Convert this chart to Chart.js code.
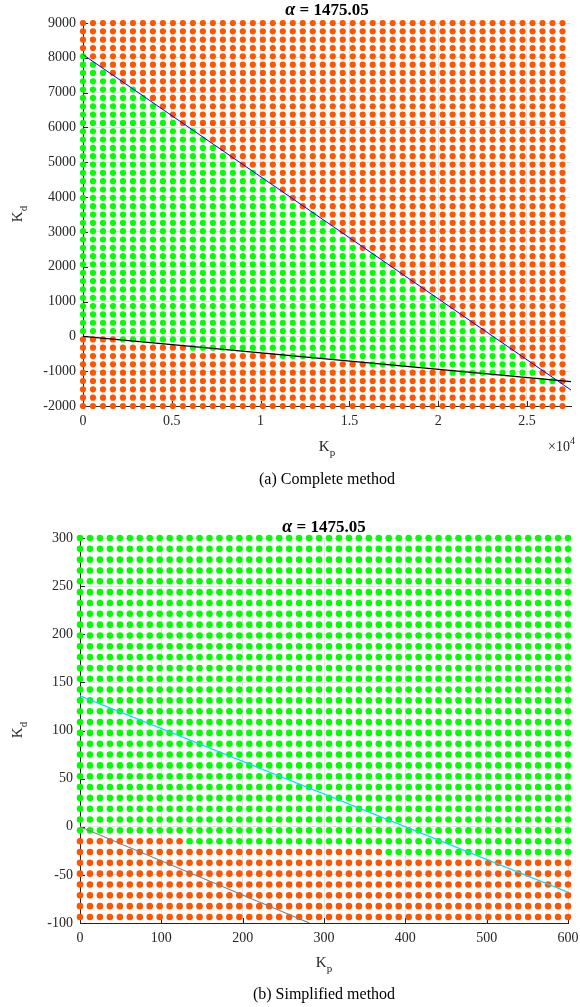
<!DOCTYPE html>
<html>
<head>
<meta charset="utf-8">
<script src="https://cdn.jsdelivr.net/npm/chart.js@4.4.1/dist/chart.umd.min.js"></script>
<style>
  html, body { margin: 0; padding: 0; background: #fff; }
  #wrap { position: relative; width: 580px; height: 1007px; }
  canvas { position: absolute; left: 0; }
  #c1 { top: 0; }
  #c2 { top: 500px; }
</style>
</head>
<body>
<div id="wrap">
  <canvas id="c1" width="580" height="500" style="width:580px;height:500px"></canvas>
  <canvas id="c2" width="580" height="507" style="width:580px;height:507px"></canvas>
</div>
<script>
// ---- (a) complete method : sample grid ----
const topKp = [0, 562.5, 1125, 1687.5, 2250, 2812.5, 3375, 3937.5, 4500, 5062.5, 5625, 6187.5, 6750,
  7312.5, 7875, 8437.5, 9000, 9562.5, 10125, 10687.5, 11250, 11812.5, 12375, 12937.5, 13500, 14062.5,
  14625, 15187.5, 15750, 16312.5, 16875, 17437.5, 18000, 18562.5, 19125, 19687.5, 20250, 20812.5,
  21375, 21937.5, 22500, 23062.5, 23625, 24187.5, 24750, 25312.5, 25875, 26437.5, 27000]
const topKd = [-2000, -1760.9, -1521.7, -1282.6, -1043.5, -804.3, -565.2, -326.1, -87, 152.2, 391.3,
  630.4, 869.6, 1108.7, 1347.8, 1587, 1826.1, 2065.2, 2304.3, 2543.5, 2782.6, 3021.7, 3260.9, 3500,
  3739.1, 3978.3, 4217.4, 4456.5, 4695.7, 4934.8, 5173.9, 5413, 5652.2, 5891.3, 6130.4, 6369.6,
  6608.7, 6847.8, 7087, 7326.1, 7565.2, 7804.3, 8043.5, 8282.6, 8521.7, 8760.9, 9000]
// stable (green) column range in each Kd row, null = no stable point
const topGreenFrom = [null, null, null, 46, 37, 29, 20, 11, 4, 0, 0, 0, 0, 0, 0, 0, 0, 0, 0, 0, 0, 0, 0, 0,
  0, 0, 0, 0, 0, 0, 0, 0, 0, 0, 0, 0, 0, 0, 0, 0, 0, 0, 0, null, null, null, null]
const topGreenTo = [null, null, null, 47, 45, 44, 43, 42, 41, 39, 38, 37, 36, 35, 33, 32, 31, 30, 29, 27,
  26, 25, 24, 23, 21, 20, 19, 18, 17, 15, 14, 13, 12, 11, 9, 8, 7, 6, 5, 3, 2, 1, 0, null, null, null, null]
// boundary curves
const topLineKp = [0, 27478]
const topBlueKd = [8092, -1541]
const topBlackKd = [0, -1300]
// ticks
const topKpTicks = [0, 5000, 10000, 15000, 20000, 25000]
const topKdTicks = [-2000, -1000, 0, 1000, 2000, 3000, 4000, 5000, 6000, 7000, 8000, 9000]

// ---- (b) simplified method ----
const botKp = [0, 12.24, 24.49, 36.73, 48.98, 61.22, 73.47, 85.71, 97.96, 110.2, 122.45, 134.69, 146.94,
  159.18, 171.43, 183.67, 195.92, 208.16, 220.41, 232.65, 244.9, 257.14, 269.39, 281.63, 293.88, 306.12,
  318.37, 330.61, 342.86, 355.1, 367.35, 379.59, 391.84, 404.08, 416.33, 428.57, 440.82, 453.06, 465.31,
  477.55, 489.8, 502.04, 514.29, 526.53, 538.78, 551.02, 563.27, 575.51, 587.76, 600]
const botKd = [300, 288.75, 277.5, 266.25, 255, 243.75, 232.5, 221.25, 210, 198.75, 187.5, 176.25, 165,
  153.75, 142.5, 131.25, 120, 108.75, 97.5, 86.25, 75, 63.75, 52.5, 41.25, 30, 18.75, 7.5, -3.75, -15,
  -26.25, -37.5, -48.75, -60, -71.25, -82.5, -93.75]
// last unstable (orange) column in each row, -1 = whole row stable
const botOrangeTo = [-1, -1, -1, -1, -1, -1, -1, -1, -1, -1, -1, -1, -1, -1, -1, -1, -1, -1, -1, -1, -1,
  -1, -1, -1, -1, -1, -1, -1, 10, 30, 49, 49, 49, 49, 49, 49]
const botCyanKp = [0, 600]
const botCyanKd = [136, -68]
const botGrayKp = [0, 282]
const botGrayKd = [0, -100]
const botKpTicks = [0, 100, 200, 300, 400, 500, 600]
const botKdTicks = [-100, -50, 0, 50, 100, 150, 200, 250, 300]

const GREEN = "#00ff00"
const ORANGE = "#ff5500"
const SERIF = '"Liberation Serif", "Times New Roman", serif'
const TXT = "#262626"

function pts(xs, ys) {
  return xs.map((x, i) => ({ x: x, y: ys[i] }))
}

// split grid into stable / unstable points
function splitGrid(kp, kd, isGreen) {
  const g = [], o = []
  kd.forEach((y, r) => {
    kp.forEach((x, c) => {
      if (isGreen(r, c)) g.push({ x: x, y: y })
      else o.push({ x: x, y: y })
    })
  })
  return [g, o]
}

const topSets = splitGrid(topKp, topKd, (r, c) =>
  topGreenFrom[r] !== null && c >= topGreenFrom[r] && c <= topGreenTo[r])
const botSets = splitGrid(botKp, botKd, (r, c) => c > botOrangeTo[r])

// text with subscript
function drawScript(ctx, x, y, main, small, size) {
  const f1 = size + "px " + SERIF
  const f2 = Math.round(size * 0.72) + "px " + SERIF
  ctx.font = f1
  const w1 = ctx.measureText(main).width
  ctx.font = f2
  const w2 = ctx.measureText(small).width
  const x0 = x - (w1 + w2) / 2
  ctx.textAlign = "left"
  ctx.textBaseline = "alphabetic"
  ctx.font = f1
  ctx.fillText(main, x0, y)
  ctx.font = f2
  ctx.fillText(small, x0 + w1, y + size * 0.3)
}

function drawTitle(ctx, cx, y) {
  ctx.textBaseline = "alphabetic"
  ctx.textAlign = "left"
  ctx.fillStyle = "#000"
  const a = "α"
  const rest = " = 1475.05"
  ctx.font = "italic bold 18px " + SERIF
  const wa = ctx.measureText(a).width
  ctx.font = "bold 17px " + SERIF
  const wr = ctx.measureText(rest).width
  const x0 = cx - (wa + wr) / 2
  ctx.font = "italic bold 18px " + SERIF
  ctx.fillText(a, x0, y)
  ctx.font = "bold 17px " + SERIF
  ctx.fillText(rest, x0 + wa, y)
}

// inward MATLAB style tick marks
const innerTicks = {
  id: "innerTicks",
  beforeDatasetsDraw(chart) {
    const ctx = chart.ctx
    const a = chart.chartArea
    ctx.save()
    ctx.strokeStyle = TXT
    ctx.lineWidth = 1
    chart.scales.x.ticks.forEach((t) => {
      const px = Math.round(chart.scales.x.getPixelForValue(t.value)) + 0.5
      ctx.beginPath()
      ctx.moveTo(px, a.bottom)
      ctx.lineTo(px, a.bottom - 5)
      ctx.stroke()
    })
    chart.scales.y.ticks.forEach((t) => {
      const py = Math.round(chart.scales.y.getPixelForValue(t.value)) + 0.5
      ctx.beginPath()
      ctx.moveTo(a.left, py)
      ctx.lineTo(a.left + 5, py)
      ctx.stroke()
    })
    ctx.restore()
  },
}

function labels(opt) {
  return {
    id: "labels",
    afterDraw(chart) {
      const ctx = chart.ctx
      const a = chart.chartArea
      const cx = (a.left + a.right) / 2
      ctx.save()
      drawTitle(ctx, cx, opt.titleY)
      ctx.fillStyle = TXT
      drawScript(ctx, cx, opt.xlabY, "K", "p", 15)
      ctx.save()
      ctx.translate(opt.ylabX, opt.ylabY)
      ctx.rotate(-Math.PI / 2)
      drawScript(ctx, 0, 0, "K", "d", 15)
      ctx.restore()
      if (opt.exp) {
        ctx.textAlign = "left"
        ctx.font = "14px " + SERIF
        ctx.fillText("×10", 548, opt.expY)
        ctx.font = "10px " + SERIF
        ctx.fillText("4", 570, opt.expY - 7)
      }
      ctx.fillStyle = "#000"
      ctx.font = "16px " + SERIF
      ctx.textAlign = "center"
      ctx.textBaseline = "alphabetic"
      ctx.fillText(opt.caption, cx, opt.capY)
      ctx.restore()
    },
  }
}

function axis(min, max, tickVals, size, fmt) {
  return {
    type: "linear",
    min: min,
    max: max,
    afterFit: size,
    afterBuildTicks: (s) => { s.ticks = tickVals.map((v) => ({ value: v })) },
    grid: { color: "#e4e4e4", drawTicks: false },
    border: { color: TXT, width: 1 },
    ticks: {
      color: TXT,
      font: { family: SERIF, size: 14 },
      padding: 7,
      maxRotation: 0,
      autoSkip: false,
      callback: fmt || ((v) => String(v)),
    },
  }
}

function dotSet(data, color, r) {
  return { data: data, pointRadius: r, pointBackgroundColor: color, pointBorderWidth: 0,
    pointHoverRadius: r, clip: false, order: 2 }
}
function lineSet(xs, ys, color, w) {
  return { data: pts(xs, ys), showLine: true, borderColor: color, borderWidth: w,
    pointRadius: 0, order: 1 }
}

const common = {
  responsive: false,
  animation: false,
  devicePixelRatio: 1,
  plugins: { legend: { display: false }, tooltip: { enabled: false } },
}

new Chart(document.getElementById("c1"), {
  type: "scatter",
  data: {
    datasets: [
      lineSet(topLineKp, topBlueKd, "#0000ff", 1),
      lineSet(topLineKp, topBlackKd, "#000000", 1.2),
      dotSet(topSets[0], GREEN, 3.1),
      dotSet(topSets[1], ORANGE, 3.1),
    ],
  },
  options: Object.assign({}, common, {
    layout: { padding: { left: 0, right: 9, top: 23, bottom: 0 } },
    scales: {
      // Kp of (a) labelled in units of 10^4
      x: axis(0, 27478, topKpTicks, (s) => { s.height = 94; s.paddingRight = 0; s.paddingLeft = 0 },
        (v) => String(v / 10000)),
      y: axis(-2000, 9000, topKdTicks, (s) => { s.width = 83 }),
    },
  }),
  plugins: [innerTicks, labels({ titleY: 15, xlabY: 451, ylabX: 22, ylabY: 214, exp: true,
    expY: 451, caption: "(a) Complete method", capY: 484 })],
})

new Chart(document.getElementById("c2"), {
  type: "scatter",
  data: {
    datasets: [
      lineSet(botCyanKp, botCyanKd, "#00e0ff", 1.4),
      lineSet(botGrayKp, botGrayKd, "#808080", 1.1),
      dotSet(botSets[0], GREEN, 3.3),
      dotSet(botSets[1], ORANGE, 3.3),
    ],
  },
  options: Object.assign({}, common, {
    layout: { padding: { left: 0, right: 12, top: 38, bottom: 0 } },
    scales: {
      x: axis(0, 600, botKpTicks, (s) => { s.height = 84; s.paddingRight = 0; s.paddingLeft = 0 }),
      y: axis(-100, 300, botKdTicks, (s) => { s.width = 80 }),
    },
  }),
  plugins: [innerTicks, labels({ titleY: 32, xlabY: 467, ylabX: 22, ylabY: 230, exp: false,
    caption: "(b) Simplified method", capY: 499 })],
})
</script>
</body>
</html>
